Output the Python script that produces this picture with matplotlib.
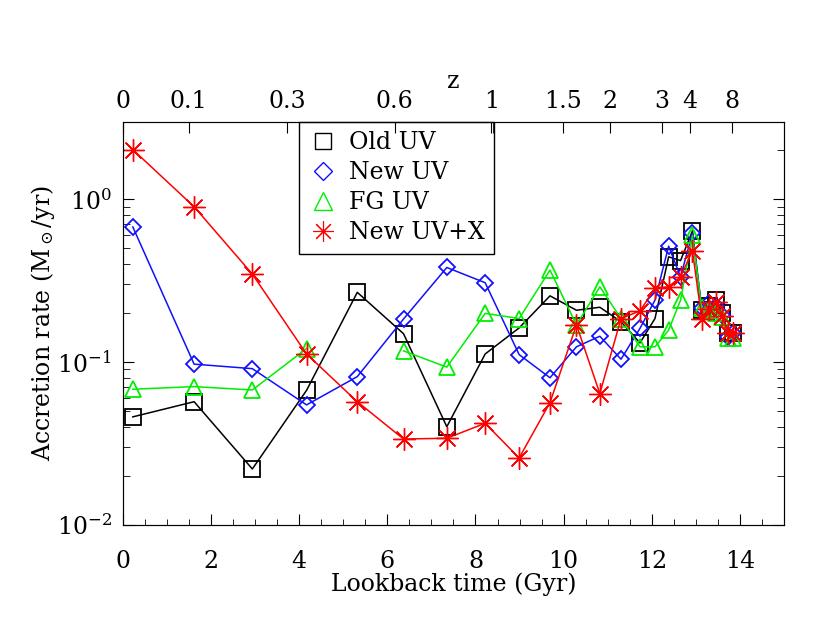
import numpy as np
import matplotlib
matplotlib.use("Agg")
import matplotlib.pyplot as plt
from matplotlib.lines import Line2D

# =========================
# data
# =========================
lookback = [0.23, 1.62, 2.94, 4.17, 5.32, 6.37, 7.35, 8.22, 8.99, 9.69, 10.29, 10.82,
            11.30, 11.73, 12.07, 12.38, 12.65, 12.92, 13.13, 13.30, 13.45, 13.60, 13.72, 13.85]

old_uv = [0.046, 0.057, 0.022, 0.067, 0.268, 0.149, 0.040, 0.112, 0.162, 0.255, 0.208, 0.217,
          0.177, 0.131, 0.185, 0.443, 0.420, 0.640, 0.208, 0.220, 0.242, 0.200, 0.150, 0.151]
new_uv = [0.676, 0.097, 0.091, 0.0545, 0.0813, 0.184, 0.381, 0.307, 0.111, 0.080, 0.124, 0.144,
          0.104, 0.161, 0.240, 0.515, 0.334, 0.620, 0.214, 0.229, 0.220, 0.195, 0.142, 0.150]
fg_uv = [0.068, 0.0706, 0.0673, 0.121, np.nan, 0.117, 0.093, 0.199, 0.185, 0.367, 0.169, 0.290,
         0.185, 0.124, 0.124, 0.157, 0.240, 0.600, 0.214, 0.210, 0.200, 0.190, 0.140, 0.140]
new_uvx = [2.02, 0.90, 0.347, 0.112, 0.057, 0.0336, 0.034, 0.042, 0.0257, 0.0563, 0.169, 0.064,
           0.185, 0.206, 0.283, 0.290, 0.334, 0.482, 0.185, 0.213, 0.234, 0.191, 0.150, 0.150]

# redshift axis on top
z_labels = ["0", "0.1", "0.3", "0.6", "1", "1.5", "2", "3", "4", "8"]
z_pos = [0.0, 1.50, 3.73, 6.17, 8.36, 9.99, 11.05, 12.23, 12.87, 13.82]
z_extra = [3.99, 8.40]

plt.rcParams["font.family"] = ["DejaVu Serif"]
plt.rcParams["mathtext.fontset"] = "dejavuserif"
FS = 17

fig = plt.figure(figsize=(8.3, 6.23), dpi=100)
ax = fig.add_axes([0.1478, 0.1578, 0.7970, 0.6469])

star = (8, 2, 0)
ax.plot(lookback, old_uv, color="black", lw=1.1, marker="s", ms=11, mfc="none", mew=1.3)
ax.plot(lookback, new_uv, color="#1010ff", lw=1.1, marker="D", ms=8, mfc="none", mew=1.3)
ax.plot(lookback, fg_uv, color="#00ee00", lw=1.1, marker="^", ms=12, mfc="none", mew=1.3)
ax.plot(lookback, new_uvx, color="red", lw=1.1, marker=star, ms=16, mew=1.0)

ax.set_yscale("log")
ax.set_xlim(0, 15)
ax.set_ylim(0.01, 3)
ax.set_xticks(np.arange(0, 15, 2))
ax.set_xticks(np.arange(0, 15.01, 0.5), minor=True)
ax.tick_params(which="both", direction="in", top=False, right=True, labelsize=FS)
ax.tick_params(axis="x", which="major", length=8, pad=18)
ax.tick_params(axis="x", which="minor", length=4)
ax.tick_params(axis="y", which="major", length=8, pad=8)
ax.tick_params(axis="y", which="minor", length=5)
ax.set_xlabel("Lookback time (Gyr)", fontsize=FS, labelpad=0)
ax.set_ylabel(r"Accretion rate (M$_\odot$/yr)", fontsize=FS, labelpad=0)
for sp in ax.spines.values():
    sp.set_color("0.25")

top = ax.twiny()
top.set_xlim(ax.get_xlim())
top.set_xticks(z_pos)
top.set_xticklabels(z_labels)
top.set_xticks(z_extra, minor=True)
top.tick_params(which="both", direction="in", length=8, labelsize=FS, pad=6)
top.set_xlabel("z", fontsize=FS, labelpad=2)

handles = [
    Line2D([], [], ls="none", color="black", marker="s", ms=12, mfc="none", mew=1.0),
    Line2D([], [], ls="none", color="#1010ff", marker="D", ms=9, mfc="none", mew=1.0),
    Line2D([], [], ls="none", color="#00ee00", marker="^", ms=13, mfc="none", mew=1.0),
    Line2D([], [], ls="none", color="red", marker=star, ms=15, mew=0.8),
]
leg = ax.legend(handles, ["Old UV", "New UV", "FG UV", "New UV+X"],
                loc="upper left", bbox_to_anchor=(0.267, 1.0), borderaxespad=0,
                fancybox=False, framealpha=1, edgecolor="black", fontsize=FS,
                handlelength=1.2, handletextpad=0.5, labelspacing=0.3, borderpad=0.4)
leg.get_frame().set_linewidth(1.0)

fig.savefig("out.png", dpi=100)
